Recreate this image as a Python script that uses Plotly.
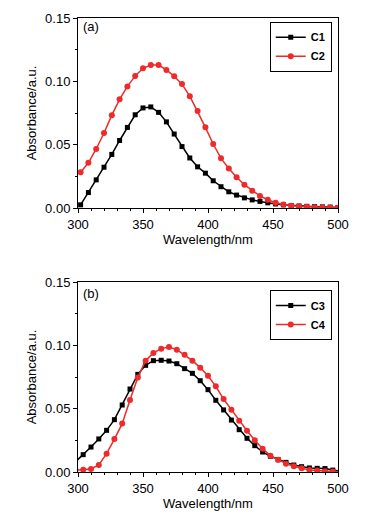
import plotly.graph_objects as go

# ---- data ----
wl_top = [302, 308, 314, 320, 326, 332, 338, 344, 350, 356, 362, 368, 374, 380, 386, 392, 398,
          404, 410, 416, 422, 428, 434, 440, 446, 452, 458, 464, 470, 476, 482, 488, 494, 500]
c1 = [0.0025, 0.0122, 0.0222, 0.0322, 0.0423, 0.0533, 0.0636, 0.0736, 0.0790, 0.0798, 0.0755, 0.0680,
      0.0584, 0.0485, 0.0395, 0.0325, 0.0275, 0.0215, 0.0168, 0.0128, 0.0102, 0.0080, 0.0064, 0.0052,
      0.0041, 0.0032, 0.0025, 0.0020, 0.0016, 0.0013, 0.0011, 0.0009, 0.0007, 0.0004]
c2 = [0.0282, 0.0357, 0.0466, 0.0592, 0.0733, 0.0858, 0.0960, 0.1043, 0.1103, 0.1129, 0.1128, 0.1090,
      0.1040, 0.0978, 0.0883, 0.0766, 0.0637, 0.0505, 0.0392, 0.0312, 0.0242, 0.0184, 0.0136, 0.0095,
      0.0065, 0.0042, 0.0028, 0.0018, 0.0012, 0.0009, 0.0006, 0.0004, 0.0003, 0.0001]

wl_bot = [298, 304, 310, 316, 322, 328, 334, 340, 346, 352, 358, 364, 370, 376, 382, 388, 394, 400,
          406, 412, 418, 424, 430, 436, 442, 448, 454, 460, 466, 472, 478, 484, 490, 496, 502]
c3 = [0.0080, 0.0137, 0.0197, 0.0261, 0.0329, 0.0413, 0.0529, 0.0655, 0.0771, 0.0842, 0.0879, 0.0882,
      0.0876, 0.0855, 0.0816, 0.0779, 0.0721, 0.0650, 0.0566, 0.0490, 0.0410, 0.0334, 0.0266, 0.0208,
      0.0158, 0.0124, 0.0097, 0.0076, 0.0055, 0.0042, 0.0032, 0.0029, 0.0027, 0.0015, 0.0008]
c4 = [0.0015, 0.0018, 0.0024, 0.0055, 0.0145, 0.0260, 0.0382, 0.0568, 0.0747, 0.0879, 0.0940, 0.0974,
      0.0987, 0.0966, 0.0926, 0.0879, 0.0824, 0.0760, 0.0676, 0.0576, 0.0492, 0.0405, 0.0326, 0.0250,
      0.0184, 0.0129, 0.0097, 0.0066, 0.0045, 0.0029, 0.0016, 0.0011, 0.0005, 0.0003, 0.0001]

x_ticks = [300, 350, 400, 450, 500]
y_ticks = [0.00, 0.05, 0.10, 0.15]

BLACK = "#000000"
RED = "#ee2a2a"
FONT = "Liberation Sans, Arial, sans-serif"
FS = 13

fig = go.Figure()

def add(x, y, name, color, symbol, size, xa, ya, legend):
    fig.add_trace(go.Scatter(
        x=x, y=y, name="<b>" + name + "</b>", mode="lines+markers",
        line=dict(color=color, width=1.5),
        marker=dict(symbol=symbol, size=size, color=color),
        xaxis=xa, yaxis=ya, legend=legend,
    ))

add(wl_top, c1, "C1", BLACK, "square", 5, "x", "y", "legend")
add(wl_top, c2, "C2", RED, "circle", 6, "x", "y", "legend")
add(wl_bot, c3, "C3", BLACK, "square", 5, "x2", "y2", "legend2")
add(wl_bot, c4, "C4", RED, "circle", 6, "x2", "y2", "legend2")

xcommon = dict(range=[300, 500], tickvals=x_ticks, ticks="outside", ticklen=4, tickwidth=1,
               tickcolor="black", showline=True, linecolor="black", linewidth=1, mirror=True,
               showgrid=False, zeroline=False, automargin=False,
               tickfont=dict(size=FS, color="black"),
               minor=dict(dtick=10, ticks="outside", ticklen=2, tickcolor="black", showgrid=False),
               title=dict(text="Wavelength/nm", font=dict(size=FS, color="black"), standoff=0))
ycommon = dict(range=[0, 0.15], tickvals=y_ticks, tickformat=".2f", ticks="outside", ticklen=4,
               tickwidth=1, tickcolor="black", showline=True, linecolor="black", linewidth=1,
               mirror=True, showgrid=False, zeroline=False, automargin=False,
               tickfont=dict(size=FS, color="black"),
               minor=dict(dtick=0.025, ticks="outside", ticklen=2, tickcolor="black", showgrid=False),
               title=dict(text="Absorbance/a.u.", font=dict(size=FS, color="black"), standoff=5))

fig.update_layout(
    width=369, height=519,
    margin=dict(l=78, r=31, t=18, b=47),
    paper_bgcolor="white", plot_bgcolor="white",
    font=dict(family=FONT, color="black"),
    xaxis=dict(domain=[0, 1], anchor="y", **xcommon),
    yaxis=dict(domain=[0.5815, 1.0], anchor="x", **ycommon),
    xaxis2=dict(domain=[0, 1], anchor="y2", **xcommon),
    yaxis2=dict(domain=[0.0, 0.4185], anchor="x2", **ycommon),
    legend=dict(x=0.976, y=0.992, xanchor="right", yanchor="top", bordercolor="black",
                borderwidth=1, bgcolor="white", font=dict(size=11, color="black", family=FONT),
                itemwidth=30, tracegroupgap=0),
    legend2=dict(x=0.976, y=0.401, xanchor="right", yanchor="top", bordercolor="black",
                 borderwidth=1, bgcolor="white", font=dict(size=11, color="black", family=FONT),
                 itemwidth=30, tracegroupgap=0),
    annotations=[
        dict(text="(a)", x=302, y=0.143, xref="x", yref="y", xanchor="left", yanchor="middle",
             showarrow=False, font=dict(size=FS, color="black")),
        dict(text="(b)", x=302, y=0.141, xref="x2", yref="y2", xanchor="left", yanchor="middle",
             showarrow=False, font=dict(size=FS, color="black")),
    ],
    showlegend=True,
)

fig.write_html("out.html", config={"displayModeBar": False},
               post_script="document.body.style.margin='0';")
